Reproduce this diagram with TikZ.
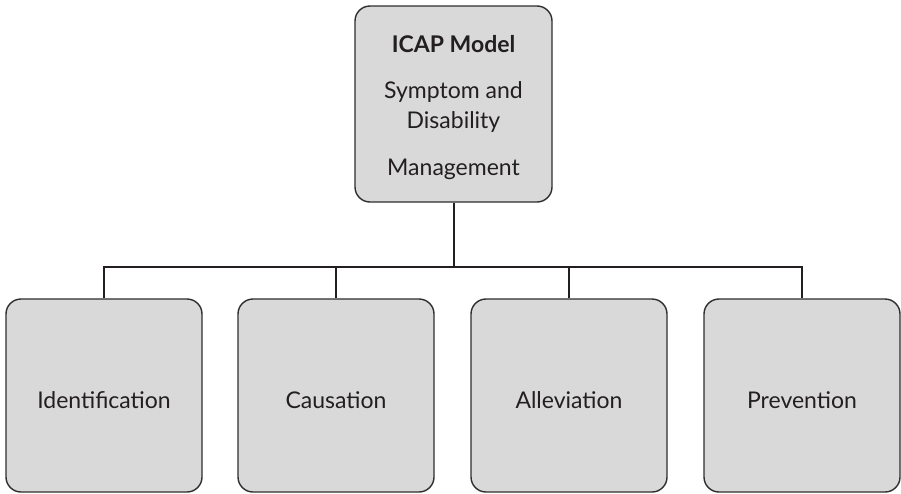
\documentclass[tikz,border=0pt]{standalone}
\usepackage{fontspec}
\setmainfont{Lato}
\definecolor{boxfill}{HTML}{D9D9D9}
\definecolor{boxline}{HTML}{2E2E2E}
\definecolor{ink}{HTML}{231F20}
\begin{document}
\begin{tikzpicture}[x=1pt,y=-1pt,
  card/.style={draw=boxline, line width=1.4pt, fill=boxfill, rounded corners=15pt,
    inner sep=0pt, align=center, text=ink,
    font=\fontsize{23}{30}\selectfont},
  topcard/.style={card, minimum width=197pt, minimum height=196pt},
  leafcard/.style={card, minimum width=196pt, minimum height=193pt,
    text height=25pt, text depth=0pt},
  link/.style={draw=ink, line width=2pt}]
\useasboundingbox (0,0) rectangle (901,493);
\node[topcard] (top) at (453.5,104) {\rule{0pt}{24pt}\textbf{ICAP Model}\\[16pt]Symptom and\\Disability\\[17pt]Management};
\node[leafcard] (a) at (104,395.5) {Identification};
\node[leafcard] (b) at (336,395.5) {Causation};
\node[leafcard] (c) at (569,395.5) {Alleviation};
\node[leafcard] (d) at (802,395.5) {Prevention};
\coordinate (bus) at (453.5,267);
\draw[link] (top.south) -- (bus);
\draw[link] (a.north) |- (bus) -| (d.north);
\draw[link] (b.north) -- (b.north |- bus);
\draw[link] (c.north) -- (c.north |- bus);
\end{tikzpicture}
\end{document}
